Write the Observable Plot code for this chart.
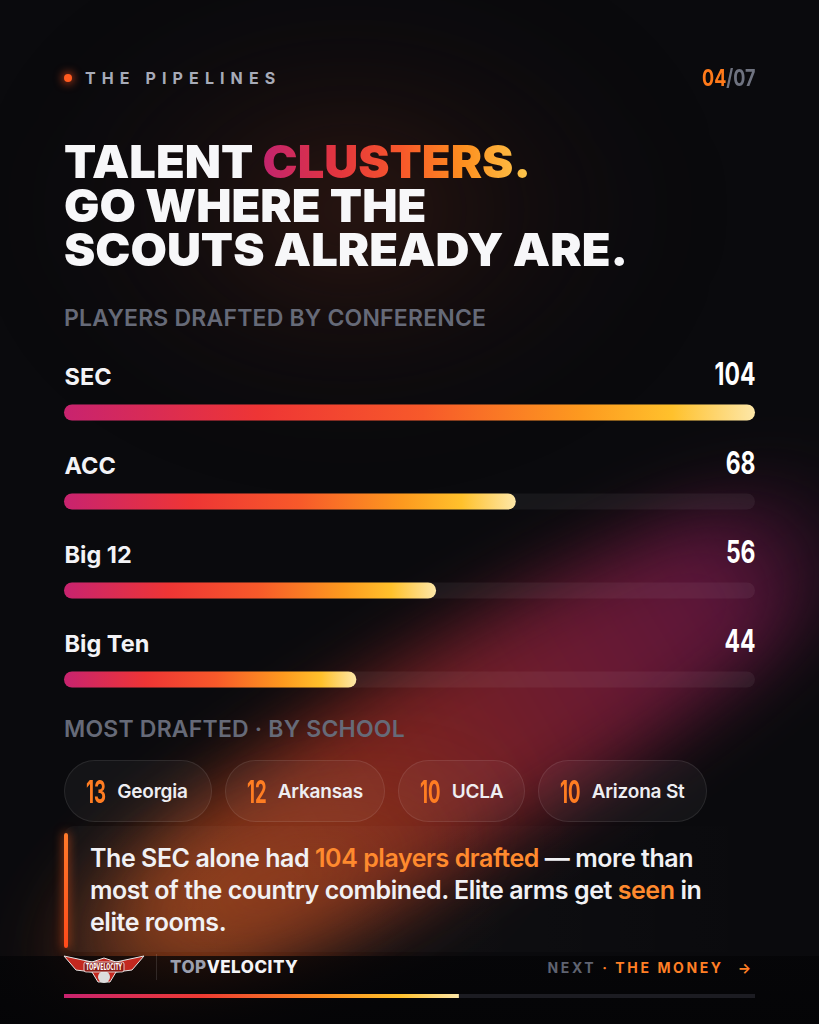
<!DOCTYPE html>
<html><head><meta charset="utf-8">
<script src="https://cdn.jsdelivr.net/npm/d3@7"></script>
<script src="https://cdn.jsdelivr.net/npm/@observablehq/plot@0.6"></script>
<style>
html,body{margin:0;padding:0;background:#0a0a0e;}
#page{position:relative;width:819px;height:1024px;overflow:hidden;background:#0a0a0d;font-family:Inter,"Noto Sans",sans-serif;color:#f3f3f5;}
.glow{position:absolute;border-radius:50%;pointer-events:none;}
.abs{position:absolute;}
.cond{display:inline-block;font-weight:700;transform-origin:left center;}
.kicker{left:64px;font-size:23px;font-weight:600;color:#666a78;letter-spacing:0.2px;}
.pill{position:absolute;top:760px;height:62px;border-radius:31px;background:rgba(255,255,255,0.045);border:1px solid rgba(255,255,255,0.085);box-sizing:border-box;display:flex;align-items:center;padding-left:21px;}
.pill .n{color:#ff7d22;font-size:31px;}
.pill .t{color:#eeeef2;font-size:19px;font-weight:600;letter-spacing:-0.2px;}
</style></head>
<body>
<div id="page">
  <!-- background glows -->
  <div class="glow" style="left:40px;top:0px;width:620px;height:420px;filter:blur(50px);background:radial-gradient(closest-side,rgba(80,36,22,0.6),rgba(50,22,16,0.25),rgba(0,0,0,0));"></div>
  <div class="glow" style="left:-30px;top:640px;width:1000px;height:200px;transform:rotate(-31deg);filter:blur(35px);background:linear-gradient(90deg,rgba(0,0,0,0) 0%,rgba(140,58,22,0.95) 16%,rgba(128,36,30,0.95) 42%,rgba(110,26,52,0.95) 64%,rgba(96,22,62,0.92) 80%,rgba(70,18,55,0.3) 90%,rgba(0,0,0,0) 96%);"></div>
  <div class="glow" style="left:40px;top:800px;width:480px;height:170px;transform:rotate(-20deg);filter:blur(45px);background:radial-gradient(closest-side,rgba(145,62,22,0.8),rgba(0,0,0,0));"></div>

  <!-- header -->
  <div class="abs" style="left:64px;top:74px;width:8px;height:8px;border-radius:50%;background:#ff5a1f;box-shadow:0 0 8px 2px rgba(255,80,30,0.6);"></div>
  <div class="abs" style="left:85px;top:68px;font-size:16px;font-weight:700;letter-spacing:6.1px;color:#a7abb8;">THE PIPELINES</div>
  <div class="abs" style="right:64px;top:64px;font-size:23px;font-weight:700;"><span id="pg" class="cond" style="transform-origin:right center;"><span style="color:#ff7a1a">04</span><span style="color:#6f7380">/07</span></span></div>

  <!-- title -->
  <div class="abs" style="left:64px;top:140px;font-size:45px;font-weight:900;line-height:44px;letter-spacing:0px;color:#f7f7f9;transform:scaleX(1.045);transform-origin:left top;">
    TALENT <span style="background:linear-gradient(90deg,#c2246e 0%,#e3353e 28%,#f7582a 52%,#fd8f1f 75%,#fdc94e 100%);-webkit-background-clip:text;background-clip:text;color:transparent;">CLUSTERS.</span><br>GO WHERE THE<br>SCOUTS ALREADY ARE.
  </div>

  <div class="abs kicker" style="top:304px;">PLAYERS DRAFTED BY CONFERENCE</div>

  <div id="bars" class="abs" style="left:0;top:340px;"></div>

  <div class="abs kicker" style="top:715px;">MOST DRAFTED · BY SCHOOL</div>
  <div id="pills"></div>

  <!-- quote -->
  <div class="abs" style="left:64px;top:826px;width:700px;height:126px;border-radius:10px;background:linear-gradient(90deg,rgba(255,255,255,0.035),rgba(255,255,255,0.01) 70%,rgba(255,255,255,0));"></div>
  <div class="abs" style="left:64px;top:833px;width:4px;height:115px;border-radius:2px;background:linear-gradient(180deg,#ff7a2a,#ff4a1a);box-shadow:0 0 10px 1px rgba(255,90,30,0.55);"></div>
  <div class="abs" style="left:90px;top:842px;width:650px;font-size:25px;font-weight:600;line-height:32px;letter-spacing:-0.45px;color:#f1f1f4;">
    The SEC alone had <span style="color:#ff8a2e">104 players drafted</span> — more than most of the country combined. Elite arms get <span style="color:#ff8a2e">seen</span> in elite rooms.
  </div>

  <!-- footer -->
  <div class="abs" style="left:0;top:956px;width:819px;height:68px;background:linear-gradient(180deg,rgba(4,4,6,0.75),rgba(4,4,6,0.9));"></div>
  <svg class="abs" style="left:62px;top:950px;" width="84" height="36" viewBox="0 0 84 36">
    <path d="M2 6 L30 12 L42 8 L54 12 L82 6 L70 20 L54 22 L48 32 L36 32 L30 22 L14 20 Z" fill="#c3281f" stroke="#e6e6e6" stroke-width="1"/>
    <circle cx="42" cy="27" r="6" fill="#dcdcdc"/>
    <rect x="22" y="12" width="40" height="10" rx="2" fill="#8b1a14" stroke="#eee" stroke-width="0.8"/>
    <text x="42" y="20" text-anchor="middle" font-size="8" font-weight="900" fill="#fff" font-family="DejaVu Sans" textLength="36" lengthAdjust="spacingAndGlyphs">TOPVELOCITY</text>
  </svg>
  <div class="abs" style="left:156px;top:954px;width:1px;height:26px;background:rgba(255,255,255,0.12);"></div>
  <div class="abs" style="left:170px;top:957px;font-size:17px;font-weight:800;letter-spacing:0.5px;"><span style="color:#9b9fae">TOP</span><span style="color:#f4f4f6">VELOCITY</span></div>
  <div class="abs" style="right:68px;top:959px;font-size:14px;font-weight:700;letter-spacing:2.6px;"><span style="color:#5f6371">NEXT</span><span style="color:#ff7f25">&nbsp;· THE MONEY</span><span style="color:#ff7f25;margin-left:14px;letter-spacing:0;">→</span></div>
  <div id="prog" class="abs" style="left:0;top:990px;"></div>
</div>
<script>
const conferences = ["SEC", "ACC", "Big 12", "Big Ten"];
const drafted = [104, 68, 56, 44];
const schools = ["Georgia", "Arkansas", "UCLA", "Arizona St"];
const schoolCounts = [13, 12, 10, 10];
const slide = 4, slides = 7;

const rows = conferences.map((c, i) => ({conf: c, value: drafted[i]}));
const maxV = d3.max(drafted);

const gradDefs = (id, stops) => () => {
  const svg = d3.create("svg");
  const g = svg.append("defs").append("linearGradient").attr("id", id);
  stops.forEach(([o,c]) => g.append("stop").attr("offset", o).attr("stop-color", c));
  return svg.select("defs").node();
};

const chart = Plot.plot({
  width: 819, height: 388,
  marginLeft: 64, marginRight: 64, marginTop: 27.5, marginBottom: 4.5,
  style: {background: "transparent", overflow: "visible"},
  x: {domain: [0, maxV], axis: null},
  y: {domain: conferences, padding: 0, axis: null},
  marks: [
    gradDefs("barGrad", [["0%","#c8236f"],["28%","#ee3535"],["52%","#f7592a"],["75%","#fd9a1f"],["88%","#ffc12c"],["100%","#fde7a8"]]),
    Plot.barX(rows, {x: maxV, y: "conf", insetTop: 36.5, insetBottom: 36.5, rx: 8, fill: "white", fillOpacity: 0.055}),
    Plot.barX(rows, {x: "value", y: "conf", insetTop: 36.5, insetBottom: 36.5, rx: 8, fill: "url(#barGrad)"}),
    Plot.text(rows, {x: 0, y: "conf", text: "conf", dy: -36, textAnchor: "start", fill: "#f3f3f6", fontSize: 23.5, fontWeight: 700, fontFamily: "Inter, sans-serif"}),
    Plot.text(rows, {x: maxV, y: "conf", text: d => String(d.value), dy: -38, textAnchor: "end", fill: "#ffffff", fontSize: 31, fontWeight: 700, fontFamily: "Inter, sans-serif"})
  ]
});
document.getElementById("bars").appendChild(chart);
// condense the value numbers
const textGroups = chart.querySelectorAll('g[aria-label="text"]');
textGroups[textGroups.length - 1].querySelectorAll("text").forEach(t => {
  const w = t.getComputedTextLength();
  t.setAttribute("textLength", (w * 0.74).toFixed(1));
  t.setAttribute("lengthAdjust", "spacingAndGlyphs");
});

// pills
const pillLeft = [64, 225, 398, 538];
const pillW = [148, 160, 127, 169];
const pills = document.getElementById("pills");
schools.forEach((s, i) => {
  const p = document.createElement("div");
  p.className = "pill";
  p.style.left = pillLeft[i] + "px";
  p.style.width = pillW[i] + "px";
  p.innerHTML = `<span class="n cond">${schoolCounts[i]}</span><span class="t">${s}</span>`;
  pills.appendChild(p);
});
document.querySelectorAll(".pill .n").forEach(el => {
  const s = 0.6, w = el.offsetWidth;
  el.style.transform = `scaleX(${s})`;
  el.style.marginRight = (-(1 - s) * w + 11) + "px";
});
document.getElementById("pg").style.transform = "scaleX(0.78)";

// progress bar
const prog = Plot.plot({
  width: 819, height: 12, marginLeft: 64, marginRight: 64, marginTop: 4, marginBottom: 4,
  style: {background: "transparent"},
  x: {domain: [0, slides], axis: null},
  marks: [
    gradDefs("progGrad", [["0%","#c8236f"],["35%","#ee3b33"],["65%","#fa8a20"],["85%","#ffc12c"],["100%","#fde7a8"]]),
    Plot.barX([slides], {x: d => d, fill: "#1c1c22"}),
    Plot.barX([slide], {x: d => d, fill: "url(#progGrad)"})
  ]
});
document.getElementById("prog").appendChild(prog);
</script>
</body></html>
